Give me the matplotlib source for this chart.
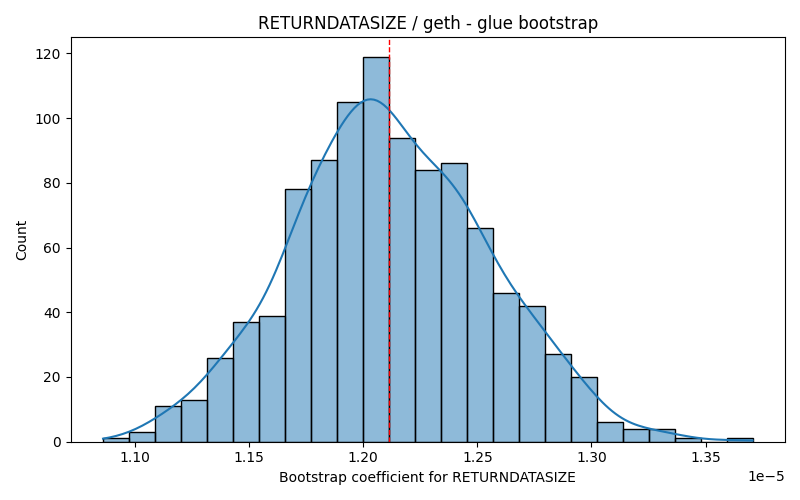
import numpy as np
import matplotlib
matplotlib.use("Agg")
import matplotlib.pyplot as plt
import seaborn as sns

# Histogram (values in units of 1e-5)
bin_left = 1.086
bin_right = 1.3706
counts = [1, 3, 11, 13, 26, 37, 39, 78, 87, 105, 119, 94, 84, 86, 66,
          46, 42, 27, 20, 6, 4, 4, 1, 0, 1]
point_estimate = 1.2112  # red dashed line

title = "RETURNDATASIZE / geth - glue bootstrap"
xlabel = "Bootstrap coefficient for RETURNDATASIZE"

edges = np.linspace(bin_left, bin_right, len(counts) + 1) * 1e-5
centers = (edges[:-1] + edges[1:]) / 2
samples = np.repeat(centers, counts)

fig, ax = plt.subplots(figsize=(8, 5), dpi=100)
sns.histplot(x=samples, bins=edges, kde=True, ax=ax, color="C0",
             kde_kws={"bw_adjust": 1.06, "cut": 0.5})
ax.axvline(point_estimate * 1e-5, color="red", linestyle="--", linewidth=1)
ax.set_xlim(edges[0] - 0.05 * (edges[-1] - edges[0]),
            edges[-1] + 0.05 * (edges[-1] - edges[0]))
ax.set_title(title)
ax.set_xlabel(xlabel)
ax.set_ylabel("Count")
fig.tight_layout()
fig.savefig("out.png", dpi=100)
